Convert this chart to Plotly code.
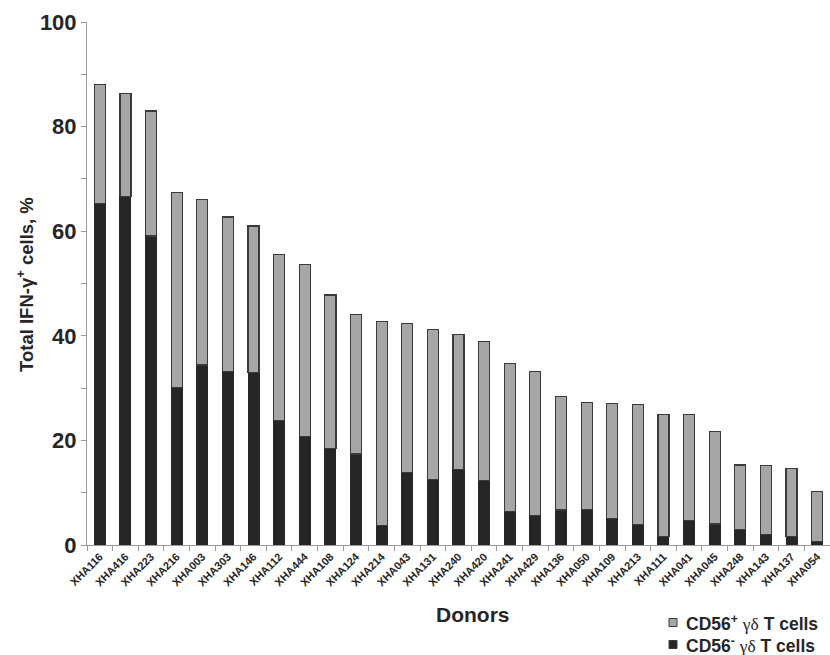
import plotly.graph_objects as go

donors = ["XHA116","XHA416","XHA223","XHA216","XHA003","XHA303","XHA146","XHA112","XHA444","XHA108",
          "XHA124","XHA214","XHA043","XHA131","XHA240","XHA420","XHA241","XHA429","XHA136","XHA050",
          "XHA109","XHA213","XHA111","XHA041","XHA045","XHA248","XHA143","XHA137","XHA054"]
total = [88.1, 86.4, 83.0, 67.4, 66.0, 62.7, 61.0, 55.6, 53.7, 47.8,
         44.1, 42.8, 42.4, 41.2, 40.3, 38.9, 34.7, 33.1, 28.4, 27.3,
         27.0, 26.9, 25.0, 25.0, 21.7, 15.3, 15.2, 14.6, 10.3]
cd56_neg = [65.3, 66.7, 59.1, 30.1, 34.4, 33.1, 33.0, 23.8, 20.7, 18.4,
            17.4, 3.8, 13.9, 12.6, 14.4, 12.3, 6.4, 5.7, 6.7, 6.8,
            5.0, 3.9, 1.7, 4.7, 4.0, 3.0, 2.0, 1.6, 0.6]
cd56_pos = [round(t - n, 1) for t, n in zip(total, cd56_neg)]

FONT = "Liberation Sans, Arial, sans-serif"
GD = '<span style="font-family:Liberation Serif;font-weight:normal">γδ</span>'
DARK = "#262626"
GRAY = "#a6a6a6"
NAME_NEG = f"<b>CD56<sup>-</sup> </b>{GD}<b> T cells</b>"
NAME_POS = f"<b>CD56<sup>+</sup> </b>{GD}<b> T cells</b>"

W, H = 830, 655
L, R, T, B = 87, 0, 22, 110
PW, PH = W - L - R, H - T - B

def px(x):
    return (x - L) / PW

def py(y):
    return (H - B - y) / PH

fig = go.Figure()
fig.add_trace(go.Bar(x=donors, y=cd56_neg, name=NAME_NEG,
                     marker=dict(color=DARK, line=dict(color=DARK, width=1)), width=0.43))
fig.add_trace(go.Bar(x=donors, y=cd56_pos, name=NAME_POS,
                     marker=dict(color=GRAY, line=dict(color="#3a3a3a", width=1.2)), width=0.43))

fig.update_layout(
    barmode="stack",
    width=W, height=H,
    margin=dict(l=L, r=R, t=T, b=B),
    paper_bgcolor="white", plot_bgcolor="white",
    font=dict(family=FONT, color=DARK),
    showlegend=False,
)
fig.update_xaxes(
    range=[-0.5, 28.5], showline=True, linecolor="#9a9a9a", linewidth=1,
    ticks="outside", ticklen=5, tickcolor="#9a9a9a", tickson="boundaries",
    tickangle=-45, tickfont=dict(size=11, family=FONT, color=DARK),
    tickprefix="<b>", ticksuffix="</b>", showgrid=False, zeroline=False, automargin=False,
)
fig.update_yaxes(
    range=[0, 100], dtick=20, showline=True, linecolor="#9a9a9a", linewidth=1,
    ticks="outside", ticklen=5, tickcolor="#9a9a9a",
    minor=dict(dtick=10, ticks="outside", ticklen=5, tickcolor="#9a9a9a"),
    tickfont=dict(size=22, family=FONT, color=DARK), tickprefix="<b>", ticksuffix="</b>",
    showgrid=False, zeroline=False, automargin=False,
)
fig.add_annotation(text="<b>Donors</b>", xref="paper", yref="paper", x=px(473), y=py(614),
                   xanchor="center", yanchor="middle", showarrow=False,
                   font=dict(size=21, family=FONT, color=DARK))
fig.add_annotation(text="<b>Total IFN-γ<sup>+</sup> cells, %</b>", xref="paper", yref="paper",
                   x=px(25), y=py(285), xanchor="center", yanchor="middle", textangle=-90,
                   showarrow=False, font=dict(size=18.5, family=FONT, color=DARK))

# legend (drawn manually to pin its position)
for name, color, yc in [(NAME_POS, GRAY, 622.5), (NAME_NEG, DARK, 644.5)]:
    fig.add_shape(type="rect", xref="paper", yref="paper",
                  x0=px(669), x1=px(677), y0=py(yc - 4), y1=py(yc + 4),
                  fillcolor=color, line=dict(color="#3a3a3a", width=1))
    fig.add_annotation(text=name, xref="paper", yref="paper", x=px(684), y=py(yc),
                       xanchor="left", yanchor="middle", showarrow=False,
                       font=dict(size=17.5, family=FONT, color=DARK))

fig.write_html("out.html", config={"displayModeBar": False},
               post_script="document.body.style.margin='0';document.body.style.overflow='hidden';")
